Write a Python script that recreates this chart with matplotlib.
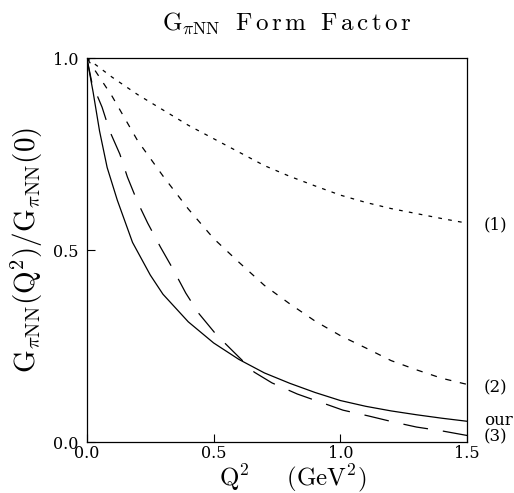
import matplotlib
matplotlib.use("Agg")
import matplotlib.pyplot as plt

plt.rcParams['font.family'] = 'serif'
plt.rcParams['font.serif'] = ['DejaVu Serif']
plt.rcParams['mathtext.fontset'] = 'cm'

# curve (1): slow fall-off
q2_1 = [0.0, 0.1, 0.2, 0.3, 0.4, 0.5, 0.6, 0.7, 0.8, 0.9, 1.0, 1.1, 1.2, 1.3, 1.4, 1.5]
g_1 = [1.0, 0.95, 0.905, 0.865, 0.825, 0.79, 0.755, 0.72, 0.692, 0.667, 0.643,
       0.624, 0.608, 0.595, 0.582, 0.57]

# curve (2)
q2_2 = [0.0, 0.1, 0.2, 0.3, 0.4, 0.5, 0.6, 0.7, 0.8, 0.9, 1.0, 1.1, 1.2, 1.3, 1.4, 1.5]
g_2 = [1.0, 0.9, 0.785, 0.693, 0.607, 0.53, 0.468, 0.408, 0.36, 0.315, 0.277,
       0.245, 0.212, 0.188, 0.166, 0.15]

# curve (3): long dashes
q2_3 = [0.0, 0.02, 0.06, 0.09, 0.13, 0.16, 0.2, 0.24, 0.29, 0.34, 0.39, 0.44, 0.51,
        0.58, 0.66, 0.73, 0.83, 0.92, 1.01, 1.11, 1.21, 1.3, 1.4, 1.5]
g_3 = [1.0, 0.935, 0.872, 0.81, 0.75, 0.69, 0.625, 0.57, 0.508, 0.45, 0.388, 0.336,
       0.28, 0.234, 0.182, 0.154, 0.125, 0.104, 0.083, 0.068, 0.052, 0.039, 0.029, 0.017]

# our result (solid)
q2_our = [0.0, 0.025, 0.05, 0.08, 0.12, 0.18, 0.25, 0.3, 0.4, 0.5, 0.6, 0.7, 0.8,
          0.9, 1.0, 1.1, 1.2, 1.3, 1.4, 1.5]
g_our = [1.0, 0.91, 0.81, 0.715, 0.63, 0.52, 0.435, 0.385, 0.313, 0.258, 0.215,
         0.18, 0.153, 0.129, 0.108, 0.093, 0.081, 0.071, 0.062, 0.054]

curve_labels = ['(1)', '(2)', 'our', '(3)']
label_y = [0.565, 0.14, 0.055, 0.013]

fig = plt.figure(figsize=(5.14, 4.93), dpi=100)
ax = fig.add_axes([0.169, 0.1034, 0.740, 0.7788])

ax.plot(q2_1, g_1, color='black', lw=0.9, dashes=(3, 5))
ax.plot(q2_2, g_2, color='black', lw=0.9, dashes=(5, 7))
ax.plot(q2_3, g_3, color='black', lw=0.9, dashes=(20, 12))
ax.plot(q2_our, g_our, color='black', lw=0.9)

for lab, yy in zip(curve_labels, label_y):
    ax.text(1.565, yy, lab, fontsize=12, va='center', ha='left', clip_on=False)

ax.set_xlim(0, 1.5)
ax.set_ylim(0, 1.0)
ax.set_xticks([0.0, 0.5, 1.0, 1.5])
ax.set_xticklabels(['0.0', '0.5', '1.0', '1.5'])
ax.set_yticks([0.0, 0.5, 1.0])
ax.set_yticklabels(['0.0', '0.5', '1.0'])
ax.tick_params(direction='in', length=6, width=0.8, labelsize=11.5, pad=2)
ax.tick_params(axis='y', pad=6)
for s in ax.spines.values():
    s.set_linewidth(0.9)

ax.set_xlabel(r'$\mathrm{Q}^2\quad\ \ (\mathrm{GeV}^2)$', fontsize=18)
ax.xaxis.set_label_coords(0.54, -0.093, transform=ax.transAxes)
ax.xaxis.label.set_va('center')
ax.set_ylabel(r'$\mathrm{G}_{\pi\mathrm{NN}}(\mathrm{Q}^2)/\mathrm{G}_{\pi\mathrm{NN}}(0)$',
              fontsize=21, labelpad=6)
fig.text(0.558, 0.953,
         r'$\mathrm{G}_{\pi\mathrm{NN}}\ \ \mathrm{F\,o\,r\,m}\ \ \mathrm{F\,a\,c\,t\,o\,r}$',
         fontsize=18, ha='center', va='center')

fig.savefig('out.png', dpi=100)
